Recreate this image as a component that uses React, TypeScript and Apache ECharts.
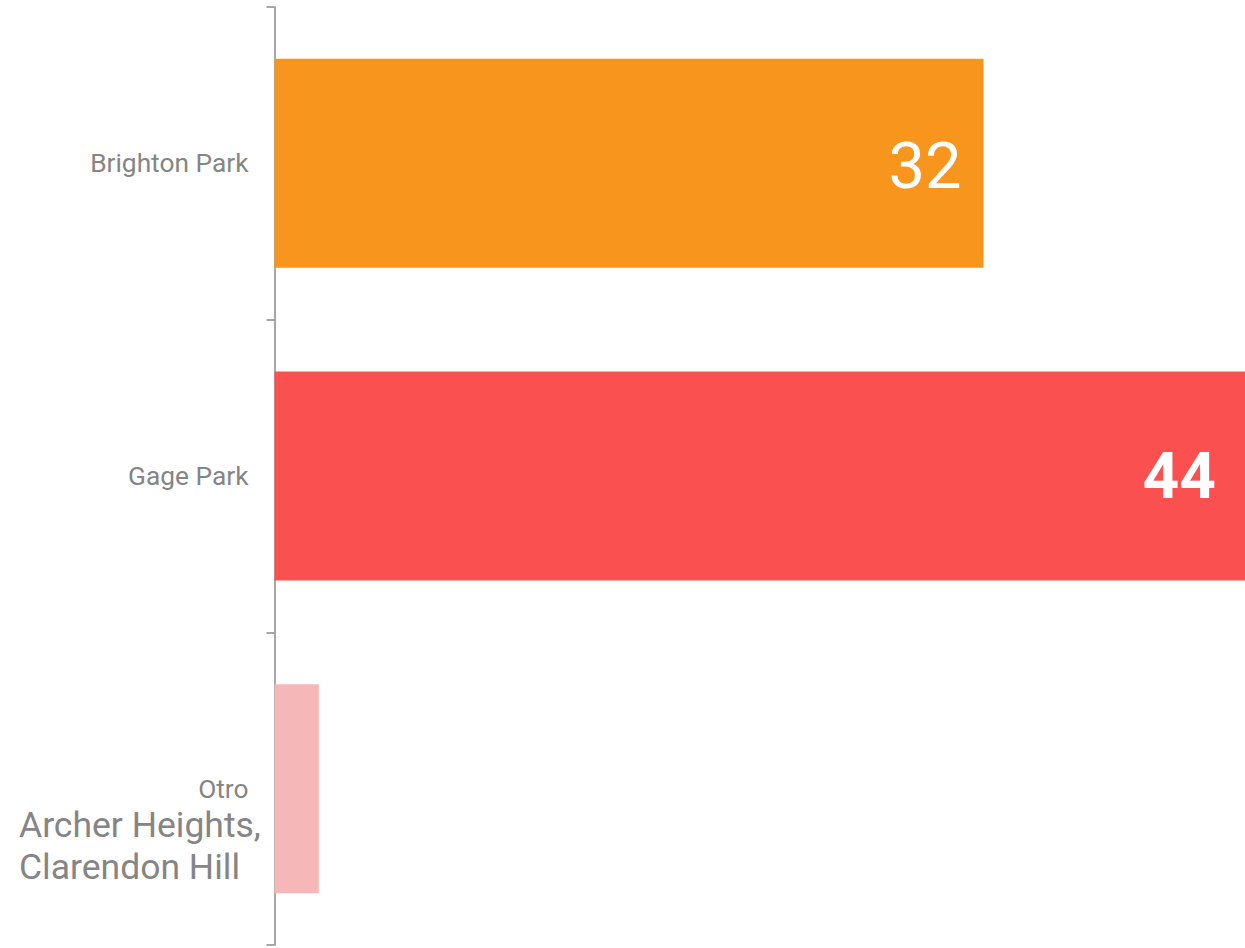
import React, { useEffect, useRef } from "react";
import * as echarts from "echarts";

const categories = ["Brighton Park", "Gage Park", "Otro"];
const values = [32, 44, 2];
const barColors = ["#F7951D", "#FB5050", "#F5B7B7"];
const otroNote = "Archer Heights,\nClarendon Hill";

export default function App() {
  const ref = useRef<HTMLDivElement>(null);
  useEffect(() => {
    if (!ref.current) return;
    const chart = echarts.init(ref.current, undefined, { renderer: "svg" });
    const data = values.map((v, i) => {
      const item: any = { value: v, itemStyle: { color: barColors[i] } };
      if (i === 0) {
        item.label = { show: true, position: "insideRight", distance: 22, fontSize: 65, fontWeight: "normal", color: "#fff", offset: [0, 3] };
      } else if (i === 1) {
        item.label = { show: true, position: "insideRight", distance: 29, fontSize: 64, fontWeight: "bold", color: "#fff" };
      } else {
        item.label = { show: false };
      }
      return item;
    });
    chart.setOption({
      animation: false,
      textStyle: { fontFamily: "Roboto" },
      grid: { left: 274.5, right: 0, top: 7, bottom: 3, containLabel: false },
      xAxis: { type: "value", min: 0, max: 43.8, show: false },
      yAxis: {
        type: "category",
        data: categories,
        inverse: true,
        axisLine: { show: true, lineStyle: { color: "#8a8a8a", width: 1.5 } },
        axisTick: { show: true, length: 8, lineStyle: { color: "#8a8a8a", width: 1.5 } },
        axisLabel: { fontSize: 26.3, color: "#858585", margin: 26, fontFamily: "Roboto" },
        splitLine: { show: false },
      },
      series: [
        {
          type: "bar",
          data,
          barWidth: 209,
          clip: true,
        },
      ],
      graphic: [
        {
          type: "text",
          left: 19,
          top: 804,
          style: {
            text: otroNote,
            fontSize: 35.5,
            lineHeight: 42,
            fill: "#858585",
            fontFamily: "Roboto",
          },
        },
      ],
    });
    return () => chart.dispose();
  }, []);
  return (
    <div
      ref={ref}
      style={{ position: "fixed", left: 0, top: 0, width: 1245, height: 948, background: "#fff" }}
    />
  );
}
